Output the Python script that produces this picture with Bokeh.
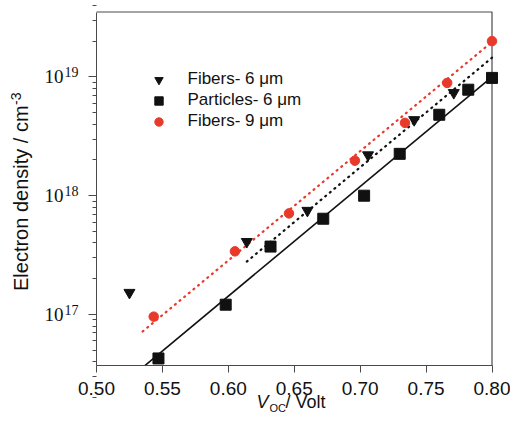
import math
from bokeh.plotting import figure
from bokeh.models import (ColumnDataSource, FixedTicker, Label, LabelSet, Legend,
                          LegendItem, Range1d, NumeralTickFormatter, LinearAxis, LogAxis,
                          CustomJSTickFormatter)
from bokeh.embed import file_html
from bokeh.resources import INLINE

# ---- data ----
fiber6_v = [0.525, 0.614, 0.660, 0.706, 0.741, 0.771]
fiber6_n = [1.53e17, 4.1e17, 7.5e17, 2.2e18, 4.35e18, 7.35e18]

particle_v = [0.547, 0.598, 0.632, 0.672, 0.703, 0.730, 0.760, 0.782, 0.800]
particle_n = [4.27e16, 1.21e17, 3.73e17, 6.4e17, 1.0e18, 2.25e18, 4.8e18, 7.8e18, 9.8e18]

fiber9_v = [0.5434, 0.605, 0.646, 0.696, 0.734, 0.766, 0.800]
fiber9_n = [9.6e16, 3.4e17, 7.1e17, 1.97e18, 4.1e18, 8.9e18, 2.0e19]

# fitted lines (end points)
particle_fit_v = [0.5367, 0.80]
particle_fit_n = [3.72e16, 1.0e19]
fiber6_fit_v = [0.614, 0.80]
fiber6_fit_n = [2.79e17, 1.45e19]
fiber9_fit_v = [0.535, 0.80]
fiber9_fit_n = [7.2e16, 1.97e19]

x_ticks = [0.50, 0.55, 0.60, 0.65, 0.70, 0.75, 0.80]
y_tick_exponents = [17, 18, 19]
legend_labels = ["Fibers- 6 μm", "Particles- 6 μm", "Fibers- 9 μm"]
x_title_parts = ["V", "OC", " / Volt"]
y_title_parts = ["Electron density / cm", "-3"]

# plot box (axis limits) and its placement on the 510x413 canvas
X_LO, X_HI = 0.50, 0.80
LOG_LO, LOG_HI = 16.571, 19.546
W, H = 510, 413
BOX_L, BOX_R, BOX_T, BOX_B = 96, 491.5, 11.5, 365

FONT = "Liberation Sans"
RED = "#E8392B"
INK = "#111111"
AXIS = "#4a4a4a"

px_x = (BOX_R - BOX_L) / (X_HI - X_LO)
px_dec = (BOX_B - BOX_T) / (LOG_HI - LOG_LO)
x_range = Range1d(X_LO - BOX_L / px_x, X_HI + (W - BOX_R) / px_x)
y_range = Range1d(10 ** (LOG_LO - (H - BOX_B) / px_dec), 10 ** (LOG_HI + BOX_T / px_dec))

p = figure(width=W, height=H, x_range=x_range, y_range=y_range,
           y_axis_type="log", x_axis_location=None, y_axis_location=None,
           output_backend="svg", toolbar_location=None,
           min_border_left=0, min_border_right=0, min_border_top=0, min_border_bottom=0)
p.grid.visible = False
p.outline_line_color = None
p.background_fill_color = "white"
p.border_fill_color = "white"


def style_axis(ax):
    ax.axis_line_color = AXIS
    ax.axis_line_width = 1
    ax.major_tick_line_color = AXIS
    ax.minor_tick_line_color = AXIS
    ax.major_tick_in = 0
    ax.minor_tick_in = 0


# bottom axis
xa = LinearAxis(fixed_location=10 ** LOG_LO, bounds=(X_LO, X_HI),
                ticker=FixedTicker(ticks=x_ticks),
                formatter=NumeralTickFormatter(format="0.00"))
style_axis(xa)
xa.major_tick_out = 7
xa.minor_tick_out = 0
xa.major_label_text_font = FONT
xa.major_label_text_font_size = "19px"
xa.major_label_text_color = INK
xa.major_label_standoff = 9
p.add_layout(xa, "below")

# left (log) axis
ya = LogAxis(fixed_location=X_LO, bounds=(10 ** LOG_LO, 10 ** LOG_HI),
             formatter=CustomJSTickFormatter(code="return ''"),
             ticker=FixedTicker(
                 ticks=[10.0 ** e for e in y_tick_exponents],
                 minor_ticks=[k * 10.0 ** e for e in range(16, 20) for k in range(2, 10)]))
style_axis(ya)
ya.major_tick_out = 8
ya.minor_tick_out = 4
p.add_layout(ya, "left")

# top and right edges of the plot box (from the axis limits)
p.line([X_LO, X_HI, X_HI], [10 ** LOG_HI, 10 ** LOG_HI, 10 ** LOG_LO],
       line_color=AXIS, line_width=1.2)

# fit lines
p.line(particle_fit_v, particle_fit_n, line_color=INK, line_width=1.6)
p.line(fiber6_fit_v, fiber6_fit_n, line_color=INK, line_width=2.2,
       line_dash="1 5", line_cap="round")
p.line(fiber9_fit_v, fiber9_fit_n, line_color=RED, line_width=2.2,
       line_dash="1 5", line_cap="round")

# data points
r_f6 = p.scatter(fiber6_v, fiber6_n, marker="inverted_triangle", size=11,
                 fill_color=INK, line_color=INK)
r_p6 = p.scatter(particle_v, particle_n, marker="square", size=11,
                 fill_color=INK, line_color=INK)
r_f9 = p.scatter(fiber9_v, fiber9_n, marker="circle", size=9.5,
                 fill_color=RED, line_color=RED)

legend = Legend(items=[LegendItem(label=legend_labels[0], renderers=[r_f6]),
                       LegendItem(label=legend_labels[1], renderers=[r_p6]),
                       LegendItem(label=legend_labels[2], renderers=[r_f9])],
                location=(147.5, H - 131.5), padding=0, margin=0, spacing=0,
                glyph_width=21, glyph_height=21, label_height=21,
                label_standoff=19, label_text_font=FONT,
                label_text_font_size="17px", label_text_color=INK,
                background_fill_alpha=0, border_line_color=None)
p.add_layout(legend)

# y tick labels 10^n
ytick_src = ColumnDataSource(dict(
    y=[10.0 ** e for e in y_tick_exponents],
    base=["10" for _ in y_tick_exponents],
    exp=[str(e) for e in y_tick_exponents]))
p.add_layout(LabelSet(x=63, y="y", x_units="screen", text="base", source=ytick_src,
                      text_align="right", text_baseline="middle",
                      text_font=FONT, text_font_size="19px", text_color=INK))
p.add_layout(LabelSet(x=64, y="y", x_units="screen", text="exp", source=ytick_src,
                      y_offset=5, text_align="left", text_baseline="middle",
                      text_font=FONT, text_font_size="14px", text_color=INK))

# x axis title  V_OC / Volt   (screen units: x from left, y from bottom)
p.add_layout(Label(x=256, y=H - 401.5, x_units="screen", y_units="screen",
                   text=x_title_parts[0], text_font=FONT, text_font_size="18px",
                   text_font_style="italic", text_baseline="middle", text_color=INK))
p.add_layout(Label(x=269, y=H - 407, x_units="screen", y_units="screen",
                   text=x_title_parts[1], text_font=FONT, text_font_size="11px",
                   text_baseline="middle", text_color=INK))
p.add_layout(Label(x=285, y=H - 401.5, x_units="screen", y_units="screen",
                   text=x_title_parts[2], text_font=FONT, text_font_size="18px",
                   text_baseline="middle", text_color=INK))

# y axis title  Electron density / cm-3 (rotated)
p.add_layout(Label(x=20, y=H - 290.5, x_units="screen", y_units="screen",
                   text=y_title_parts[0], angle=math.pi / 2,
                   text_font=FONT, text_font_size="20px", text_align="left",
                   text_baseline="middle", text_color=INK))
p.add_layout(Label(x=15, y=H - 104.4, x_units="screen", y_units="screen",
                   text=y_title_parts[1], angle=math.pi / 2,
                   text_font=FONT, text_font_size="14px", text_align="left",
                   text_baseline="middle", text_color=INK))

open("out.html", "w").write(file_html(p, INLINE))
